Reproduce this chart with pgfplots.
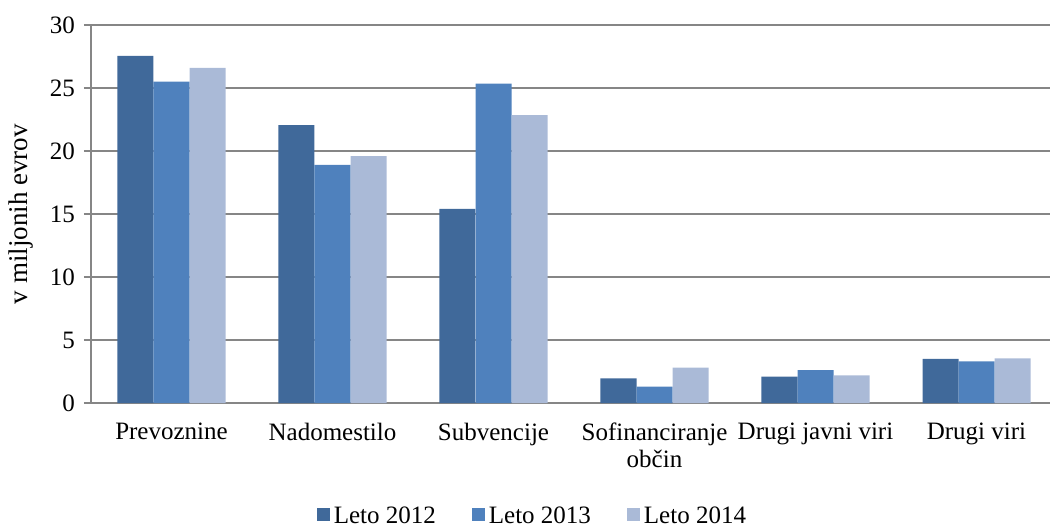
\documentclass[border=0pt]{standalone}
\usepackage{fontspec}
\setmainfont{Liberation Serif}
\usepackage{pgfplots}
\pgfplotsset{compat=1.18}

\definecolor{c2012}{RGB}{64,105,154}
\definecolor{c2013}{RGB}{79,129,189}
\definecolor{c2014}{RGB}{170,186,215}
\definecolor{gridgray}{RGB}{134,134,134}

\begin{document}
\begin{tikzpicture}
  % fix the page to the reference's frame (axis origin at 0,0)
  \useasboundingbox (-45.5pt,-62pt) rectangle (479.5pt,201.5pt);
  \begin{axis}[
      scale only axis,
      width=483pt, height=189pt,
      ybar=0pt, bar width=18pt,
      ymin=0, ymax=30, ytick={0,5,...,30},
      xmin=-0.5, xmax=5.5,
      xtick={0,...,5},
      xticklabels={Prevoznine, Nadomestilo, Subvencije, Sofinanciranje\\občin, Drugi javni viri, Drugi viri},
      extra x ticks={-0.5,0.5,...,5.5},
      extra x tick labels={},
      extra x tick style={major tick length=3pt, tick style={gridgray, line width=0.8pt}, grid=none},
      axis x line*=bottom, axis y line*=left,
      axis line style={gridgray, line width=0.8pt, -},
      x tick style={draw=none},
      y tick style={gridgray, line width=0.8pt},
      tick align=outside, major tick length=3.5pt,
      ymajorgrids, grid style={gridgray, line width=0.8pt},
      font=\fontsize{12.5}{13.5}\selectfont,
      /pgf/number format/assume math mode=true,
      yticklabel style={xshift=-1pt},
      xticklabel style={align=center, anchor=north, yshift=-3pt},
      ylabel={v miljonih evrov},
      ylabel style={at={(axis description cs:-0.072,0.5)}, anchor=center, font=\fontsize{13.5}{14}\selectfont},
      legend style={at={(axis description cs:0.458,-0.30)}, anchor=center, font=\fontsize{12.5}{13}\selectfont,
        draw=none, legend columns=3, /tikz/every even column/.append style={column sep=16pt}},
      legend image code/.code={\fill[#1] (0,-0.25em) rectangle (0.65em,0.4em);},
    ]
    \addplot[fill=c2012, draw=none] coordinates {(0,27.55) (1,22.05) (2,15.4) (3,1.95) (4,2.1) (5,3.5)};
    \addplot[fill=c2013, draw=none] coordinates {(0,25.5) (1,18.9) (2,25.35) (3,1.3) (4,2.6) (5,3.3)};
    \addplot[fill=c2014, draw=none] coordinates {(0,26.6) (1,19.6) (2,22.85) (3,2.8) (4,2.2) (5,3.55)};
    \legend{Leto 2012, Leto 2013, Leto 2014}
  \end{axis}
\end{tikzpicture}
\end{document}
